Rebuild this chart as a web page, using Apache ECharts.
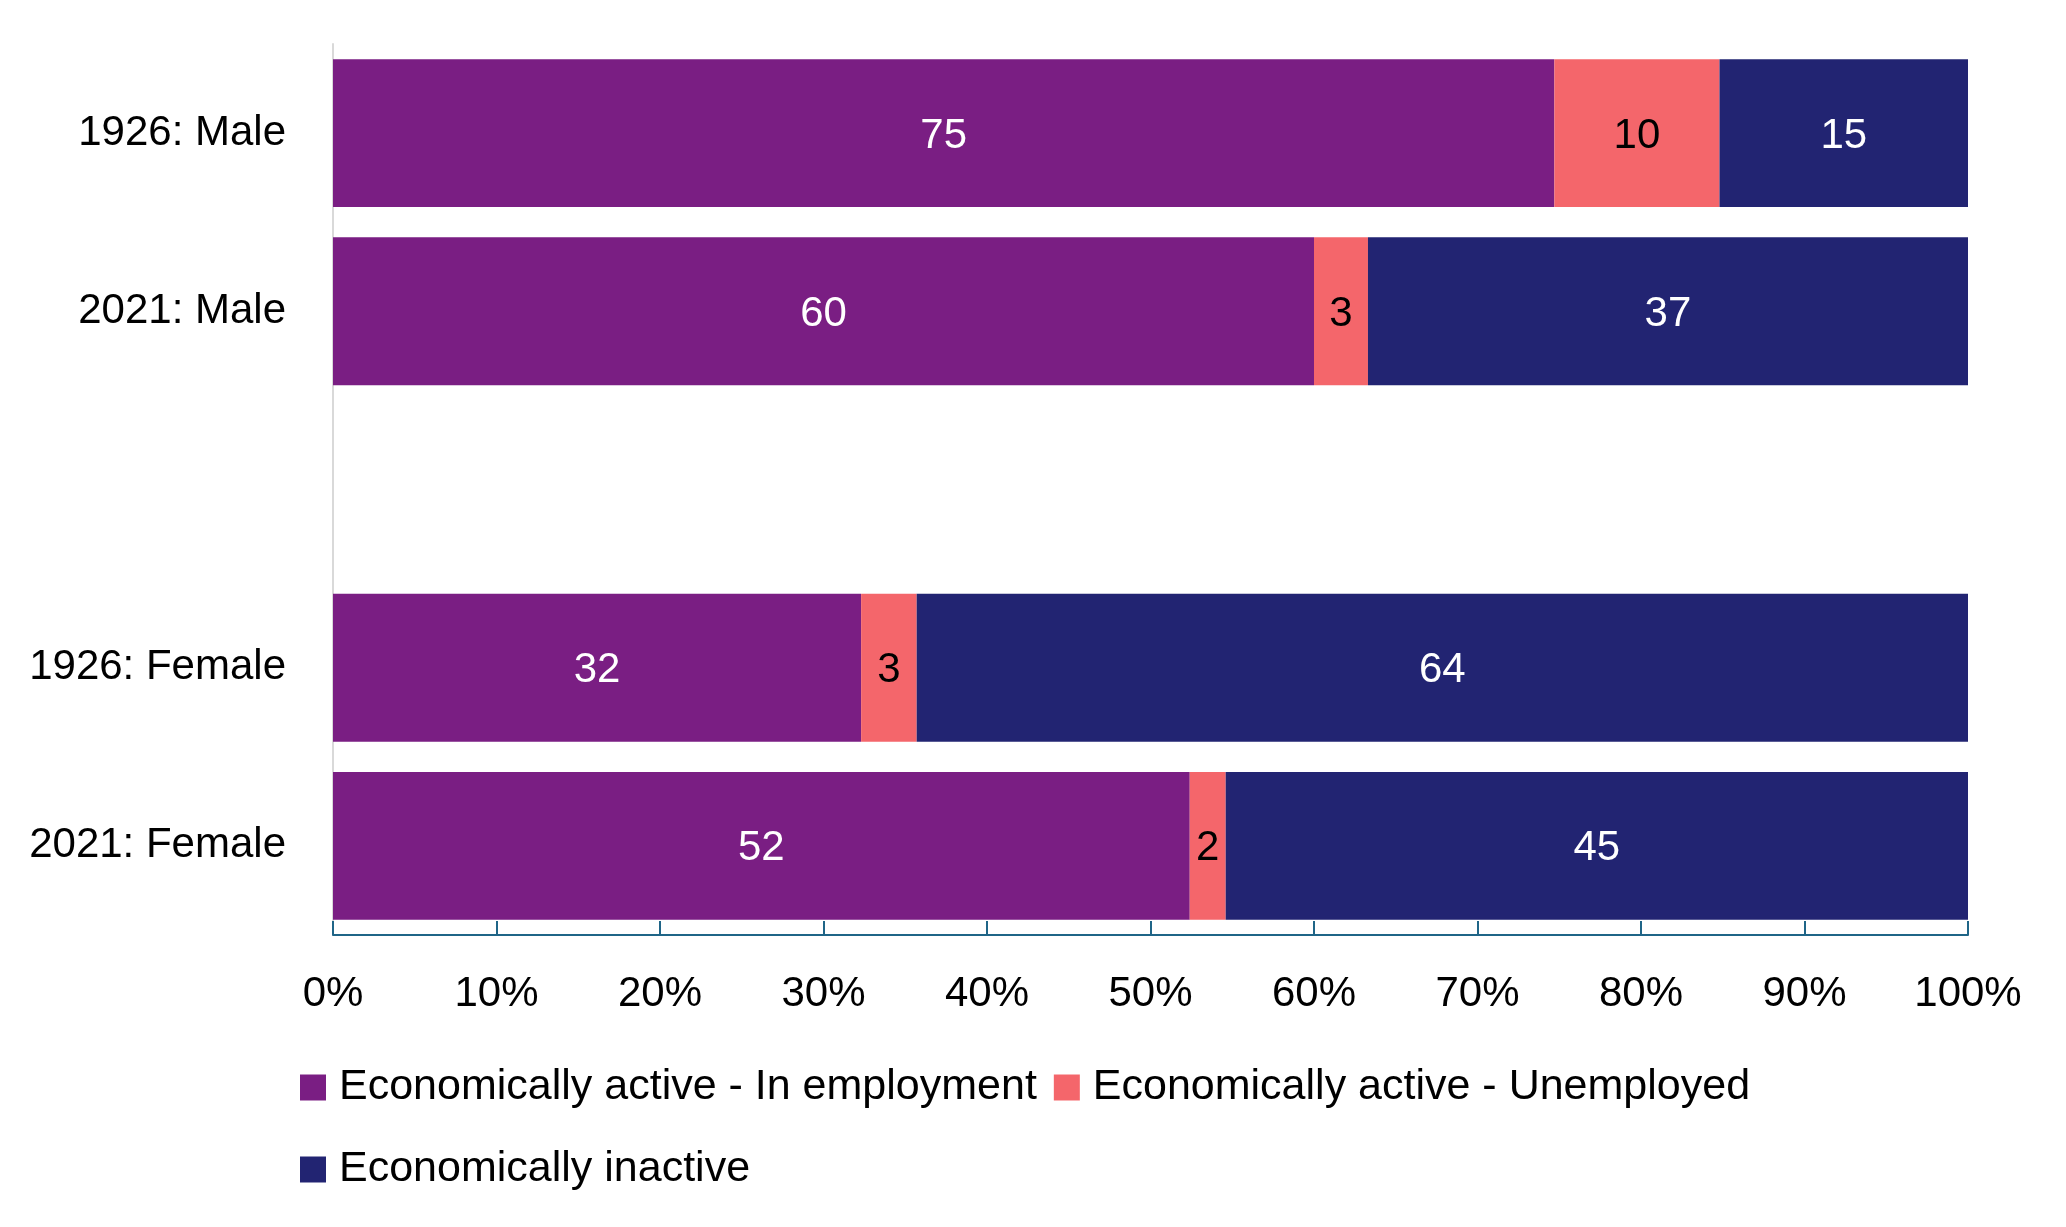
<!DOCTYPE html>
<html>
<head>
<meta charset="utf-8">
<script src="https://cdn.jsdelivr.net/npm/echarts@6/dist/echarts.min.js"></script>
<style>
  html, body { margin: 0; padding: 0; background: #fff; }
  #chart { width: 2066px; height: 1227px; }
</style>
</head>
<body>
<div id="chart"></div>
<script>
// categories, top to bottom (empty slot between the male and female groups)
var categories = ['1926: Male', '2021: Male', '', '1926: Female', '2021: Female'];

// shares in percent
var inEmployment = [74.7, 60.0, null, 32.3, 52.4];
var unemployed = [10.1, 3.3, null, 3.4, 2.2];
var inactive = [15.2, 36.7, null, 64.3, 45.4];

var seriesNames = [
  'Economically active - In employment',
  'Economically active - Unemployed',
  'Economically inactive'
];
var colors = ['#7A1E83', '#F4666B', '#222472'];
var labelColors = ['#ffffff', '#000000', '#ffffff'];

var FONT = 'Liberation Sans, Arial, sans-serif';

var chart = echarts.init(document.getElementById('chart'));

var dataSets = [inEmployment, unemployed, inactive];
var series = [];
for (var i = 0; i < dataSets.length; i++) {
  series.push({
    name: seriesNames[i],
    type: 'bar',
    stack: 'total',
    barCategoryGap: '17%',
    data: dataSets[i],
    itemStyle: { color: colors[i] },
    label: {
      show: true,
      position: 'inside',
      offset: [0, 3],
      color: labelColors[i],
      fontFamily: FONT,
      fontSize: 42,
      formatter: function (p) { return Math.round(p.value); }
    }
  });
}

var legendText = { fontFamily: FONT, fontSize: 43, color: '#000', padding: [0, 0, 0, 8] };

var option = {
  animation: false,
  color: colors,
  grid: { left: 333, right: 98, top: 44, bottom: 292, containLabel: false },
  xAxis: {
    type: 'value',
    min: 0,
    max: 100,
    interval: 10,
    axisLine: { show: true, lineStyle: { color: '#1F6587', width: 2 } },
    axisTick: { show: true, inside: true, length: 14, lineStyle: { color: '#1F6587', width: 2 } },
    splitLine: { show: false },
    axisLabel: {
      formatter: '{value}%',
      fontFamily: FONT,
      fontSize: 42,
      color: '#000',
      margin: 38
    }
  },
  yAxis: {
    type: 'category',
    inverse: true,
    data: categories,
    axisLine: { show: true, lineStyle: { color: '#D9D9D9', width: 2 } },
    axisTick: { show: false },
    axisLabel: {
      fontFamily: FONT,
      fontSize: 42,
      color: '#000',
      margin: 47
    }
  },
  legend: [
    {
      left: 295,
      top: 1061,
      itemWidth: 26,
      itemHeight: 26,
      itemGap: 17,
      icon: 'rect',
      textStyle: legendText,
      data: [seriesNames[0], seriesNames[1]]
    },
    {
      left: 295,
      top: 1143,
      itemWidth: 26,
      itemHeight: 26,
      itemGap: 17,
      icon: 'rect',
      textStyle: legendText,
      data: [seriesNames[2]]
    }
  ],
  series: series
};

chart.setOption(option);
</script>
</body>
</html>
